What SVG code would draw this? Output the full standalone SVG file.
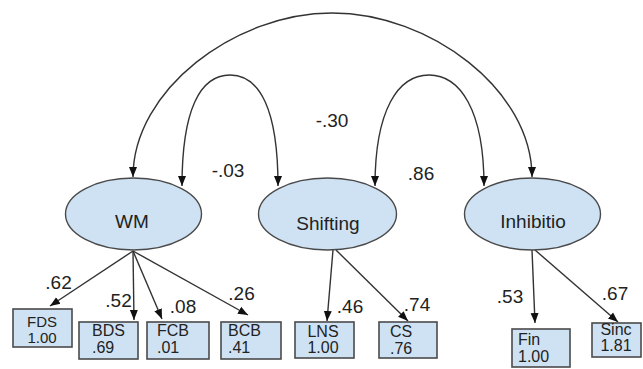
<svg xmlns="http://www.w3.org/2000/svg" width="643" height="369" viewBox="0 0 643 369">
<style>
.bg{fill:#ffffff}
.lat{fill:#cfe2f3;stroke:#4a4a4a;stroke-width:1.4}
.box{fill:#cfe2f3;stroke:#4a4a4a;stroke-width:1.6}
.edge{fill:none;stroke:#333;stroke-width:1.4}
text{font-family:"Liberation Sans",Arial,sans-serif;fill:#222}
.nl{font-size:19px;text-anchor:middle}
.bt{font-size:16px}
.c{text-anchor:middle}
.coef{font-size:19px;text-anchor:middle}
</style>
<defs>
<marker id="ah" markerUnits="userSpaceOnUse" markerWidth="10" markerHeight="10" viewBox="0 0 10 10" refX="10" refY="5" orient="auto">
<path d="M0,1 L10,5 L0,9 Z" fill="#111"/>
</marker>
</defs>
<rect class="bg" x="0" y="0" width="643" height="369"/>
<g id="connectors">
<path class="edge" d="M332,13 C235,13 133,90 133,177" marker-end="url(#ah)"/>
<path class="edge" d="M332,13 C430,13 532,90 532,177" marker-end="url(#ah)"/>
<path class="edge" d="M230,75 C200,75 182,110 182,186" marker-end="url(#ah)"/>
<path class="edge" d="M230,75 C260,75 278,110 278,186" marker-end="url(#ah)"/>
<path class="edge" d="M429,75 C398,75 375,110 375,186" marker-end="url(#ah)"/>
<path class="edge" d="M429,75 C460,75 484,110 484,186" marker-end="url(#ah)"/>
<line class="edge" x1="133" y1="251" x2="50" y2="306" marker-end="url(#ah)"/>
<line class="edge" x1="133" y1="251" x2="134" y2="320" marker-end="url(#ah)"/>
<line class="edge" x1="133" y1="251" x2="162" y2="319" marker-end="url(#ah)"/>
<line class="edge" x1="133" y1="251" x2="248" y2="315" marker-end="url(#ah)"/>
<line class="edge" x1="333" y1="250" x2="327" y2="321" marker-end="url(#ah)"/>
<line class="edge" x1="336" y1="250" x2="408" y2="321" marker-end="url(#ah)"/>
<line class="edge" x1="532" y1="250" x2="535" y2="323" marker-end="url(#ah)"/>
<line class="edge" x1="535" y1="250" x2="618" y2="322" marker-end="url(#ah)"/>
<text class="coef" x="332" y="127">-.30</text>
<text class="coef" x="228" y="177">-.03</text>
<text class="coef" x="421" y="180">.86</text>
<text class="coef" x="58.5" y="289">.62</text>
<text class="coef" x="118.5" y="307">.52</text>
<text class="coef" x="183" y="313">.08</text>
<text class="coef" x="241.5" y="300">.26</text>
<text class="coef" x="350" y="313">.46</text>
<text class="coef" x="417" y="311">.74</text>
<text class="coef" x="510" y="303">.53</text>
<text class="coef" x="615" y="300">.67</text>
</g>
<g id="WM">
<ellipse class="lat" cx="133.5" cy="214" rx="68" ry="36"/>
<text class="nl" x="132" y="228">WM</text>
</g>
<g id="Shifting">
<ellipse class="lat" cx="327.5" cy="214" rx="69" ry="36"/>
<text class="nl" x="328" y="230">Shifting</text>
</g>
<g id="Inhibitio">
<ellipse class="lat" cx="532.5" cy="214" rx="68" ry="36"/>
<text class="nl" x="533" y="228">Inhibitio</text>
</g>
<g id="FDS">
<rect class="box" x="13" y="309" width="59" height="38"/>
<text class="bt c" x="42" y="327" style="font-size:15px">FDS</text>
<text class="bt c" x="42" y="343" style="font-size:15px">1.00</text>
</g>
<g id="BDS">
<rect class="box" x="79" y="322" width="59" height="37"/>
<text class="bt" x="92" y="336">BDS</text>
<text class="bt" x="92" y="353">.69</text>
</g>
<g id="FCB">
<rect class="box" x="147" y="322" width="62" height="37"/>
<text class="bt" x="157" y="336">FCB</text>
<text class="bt" x="157" y="353">.01</text>
</g>
<g id="BCB">
<rect class="box" x="221" y="322" width="60" height="37"/>
<text class="bt" x="228" y="336">BCB</text>
<text class="bt" x="228" y="353">.41</text>
</g>
<g id="LNS">
<rect class="box" x="295" y="322" width="59" height="36"/>
<text class="bt c" x="323" y="337">LNS</text>
<text class="bt c" x="323" y="353">1.00</text>
</g>
<g id="CS">
<rect class="box" x="379" y="322" width="58" height="36"/>
<text class="bt" x="390" y="337">CS</text>
<text class="bt" x="390" y="354">.76</text>
</g>
<g id="Fin">
<rect class="box" x="512" y="329" width="58" height="38"/>
<text class="bt" x="518" y="345">Fin</text>
<text class="bt" x="518" y="362">1.00</text>
</g>
<g id="Sinc">
<rect class="box" x="592" y="323" width="49" height="34"/>
<text class="bt c" x="616" y="335">Sinc</text>
<text class="bt c" x="616" y="351">1.81</text>
</g>
</svg>
